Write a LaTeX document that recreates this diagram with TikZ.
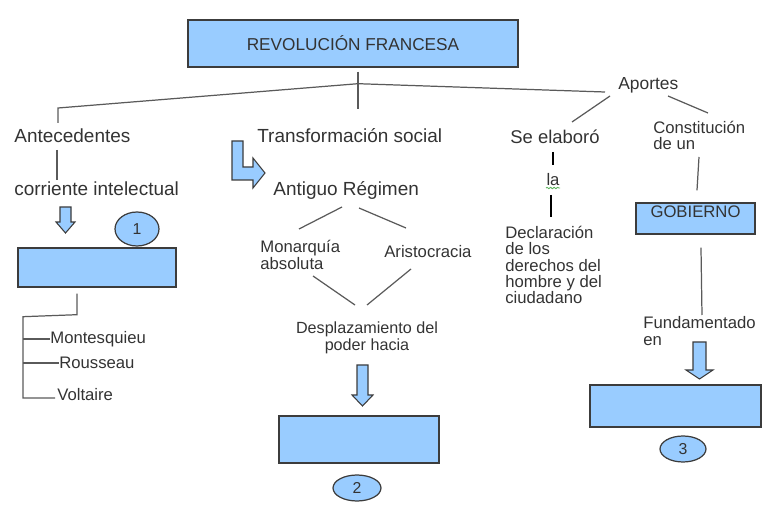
\documentclass[tikz,border=0pt]{standalone}
\usepackage{fontspec}
\setmainfont{Liberation Sans}
\usetikzlibrary{shapes.geometric,decorations.pathmorphing}
\definecolor{boxblue}{HTML}{99CCFF}
\definecolor{boxline}{HTML}{3C3C3C}
\definecolor{inkgray}{HTML}{333333}
\definecolor{linegray}{HTML}{5A5A5A}
\definecolor{spellgreen}{HTML}{5DB35D}
\tikzset{
  concept/.style={draw=boxline, line width=0.8pt, fill=boxblue, inner sep=0pt},
  term/.style={text=inkgray, inner sep=0pt, font=\fontsize{10.8}{12}\selectfont},
  note/.style={term, align=left, font=\fontsize{9.5}{9.3}\selectfont},
  link/.style={draw=linegray, line width=0.7pt},
  pointer/.style={draw=boxline, line width=0.6pt, fill=boxblue, line join=miter},
  badge/.style={ellipse, draw=boxline, line width=0.7pt, fill=boxblue, inner sep=0pt,
    text=inkgray, font=\fontsize{9}{10}\selectfont}
}

\begin{document}
\begin{tikzpicture}[x=0.02cm, y=-0.02cm]
  \useasboundingbox (0,0) rectangle (779,510);

  \node[concept, minimum width=6.6cm, minimum height=0.94cm, text=inkgray,
    font=\fontsize{9.8}{11}\selectfont] (revol) at (353,43.5) {REVOLUCIÓN FRANCESA};
  \coordinate (hub) at ([shift={(5,16)}]revol.south);
  \draw[link] ([shift={(5,4)}]revol.south) -- ([shift={(0,25)}]hub);

  \node[term, anchor=west] (antec) at (14,136) {Antecedentes};
  \node[term, anchor=west] (corr) at (14,189) {corriente intelectual};
  \node[concept, minimum width=3.16cm, minimum height=0.78cm] (box1) at (97,267.5) {};
  \node[badge, minimum width=0.88cm, minimum height=0.68cm] (num1) at (137,229) {1};
  \node[note, anchor=west] (mont) at (50,339) {Montesquieu};
  \node[note, anchor=west] (rouss) at (59,363) {Rousseau};
  \node[note, anchor=west] (volt) at (57,395) {Voltaire};

  \node[term, anchor=west] (trans) at (257,136) {Transformación social};
  \node[term, anchor=west] (antig) at (273,190) {Antiguo Régimen};
  \node[note, anchor=west] (monar) at (260,255) {Monarquía\\absoluta};
  \node[note, anchor=west] (aristo) at (384,252) {Aristocracia};
  \node[note, align=center, font=\fontsize{9.2}{9.6}\selectfont] (despl) at (367,338)
    {Desplazamiento del\\poder hacia};
  \node[concept, minimum width=3.2cm, minimum height=0.94cm] (box2) at (359,439.5) {};
  \node[badge, minimum width=0.96cm, minimum height=0.52cm] (num2) at (357,488) {2};

  \node[note, anchor=west, font=\fontsize{9.9}{11}\selectfont] (aport) at (618,85) {Aportes};
  \node[term, anchor=west, font=\fontsize{10.5}{12}\selectfont] (elab) at (510,137) {Se elaboró};
  \node[note] (la) at (553,180) {la};
  \node[note, anchor=west] (decl) at (505,265)
    {Declaración\\de los\\derechos del\\hombre y del\\ciudadano};
  \node[note, anchor=west] (const) at (653,135.5) {Constitución\\de un};
  \node[concept, minimum width=2.38cm, minimum height=0.62cm] (gob) at (695.5,218.5) {};
  \node[note, font=\fontsize{9.5}{10}\selectfont] (gobtxt) at (695.5,212) {GOBIERNO};
  \node[note, anchor=west] (fund) at (643,331) {Fundamentado\\en};
  \node[concept, minimum width=3.42cm, minimum height=0.84cm] (box3) at (675.5,406) {};
  \node[badge, minimum width=0.92cm, minimum height=0.52cm] (num3) at (683,449) {3};

  \draw[link] (hub) -- ([shift={(44,-28)}]antec.west) -- ([shift={(44,-13)}]antec.west);
  \draw[link] (hub) -- ([shift={(-13,7)}]aport.west);
  \draw[link] ([shift={(43,14)}]antec.west) -- ([shift={(43,-9)}]corr.west);
  \draw[link] ([shift={(-8,11)}]aport.west) -- ([shift={(62,-15)}]elab.west);
  \draw[link] ([shift={(50,11)}]aport.west) -- ([shift={(55,-22.5)}]const.west);
  \draw[link, draw=black] ([shift={(43,15)}]elab.west) -- ([shift={(0,-15)}]la.center);
  \draw[link, draw=black] ([shift={(-2,15)}]la.center) -- ([shift={(46,-48)}]decl.west);
  \draw[spellgreen, line width=0.5pt, decorate,
    decoration={snake, amplitude=0.4pt, segment length=2pt}]
    ([shift={(-7,8)}]la.center) -- ([shift={(7,8)}]la.center);
  \draw[link] ([shift={(46,21.5)}]const.west) -- ([shift={(1.5,-12)}]gob.north);
  \draw[link] ([shift={(5.5,13)}]gob.south) -- ([shift={(59,-16)}]fund.west);
  \draw[link] ([shift={(69,17)}]antig.west) -- ([shift={(39,-26)}]monar.west);
  \draw[link] ([shift={(86,18)}]antig.west) -- ([shift={(22,-24)}]aristo.west);
  \draw[link] ([shift={(53,21)}]monar.west) -- ([shift={(-12,-33)}]despl.center);
  \draw[link] ([shift={(27,17)}]aristo.west) -- ([shift={(0,-33)}]despl.center);

  \coordinate (trunk) at ([shift={(-74,29)}]box1.south);
  \draw[link] ([shift={(-20,6)}]box1.south) -- ++(0,21) -- (trunk) |- ([shift={(-2,3)}]volt.west);
  \draw[link] (trunk |- mont.west) -- (mont.west);
  \draw[link] (trunk |- rouss.west) -- (rouss.west);

  \draw[pointer] (60,207) -- (71,207) -- (71,222) -- (75,222) -- (65.5,233)
    -- (56,222) -- (60,222) -- cycle;
  \draw[pointer] (232,141) -- (243,141) -- (243,167) -- (253,167) -- (253,158)
    -- (265,173) -- (253,188) -- (253,180) -- (232,180) -- cycle;
  \draw[pointer] (357,365) -- (368,365) -- (368,395) -- (373,395) -- (362.5,406)
    -- (352,395) -- (357,395) -- cycle;
  \draw[pointer] (693,342) -- (706,342) -- (706,370) -- (713,370) -- (699.5,379)
    -- (686,370) -- (693,370) -- cycle;
\end{tikzpicture}
\end{document}
